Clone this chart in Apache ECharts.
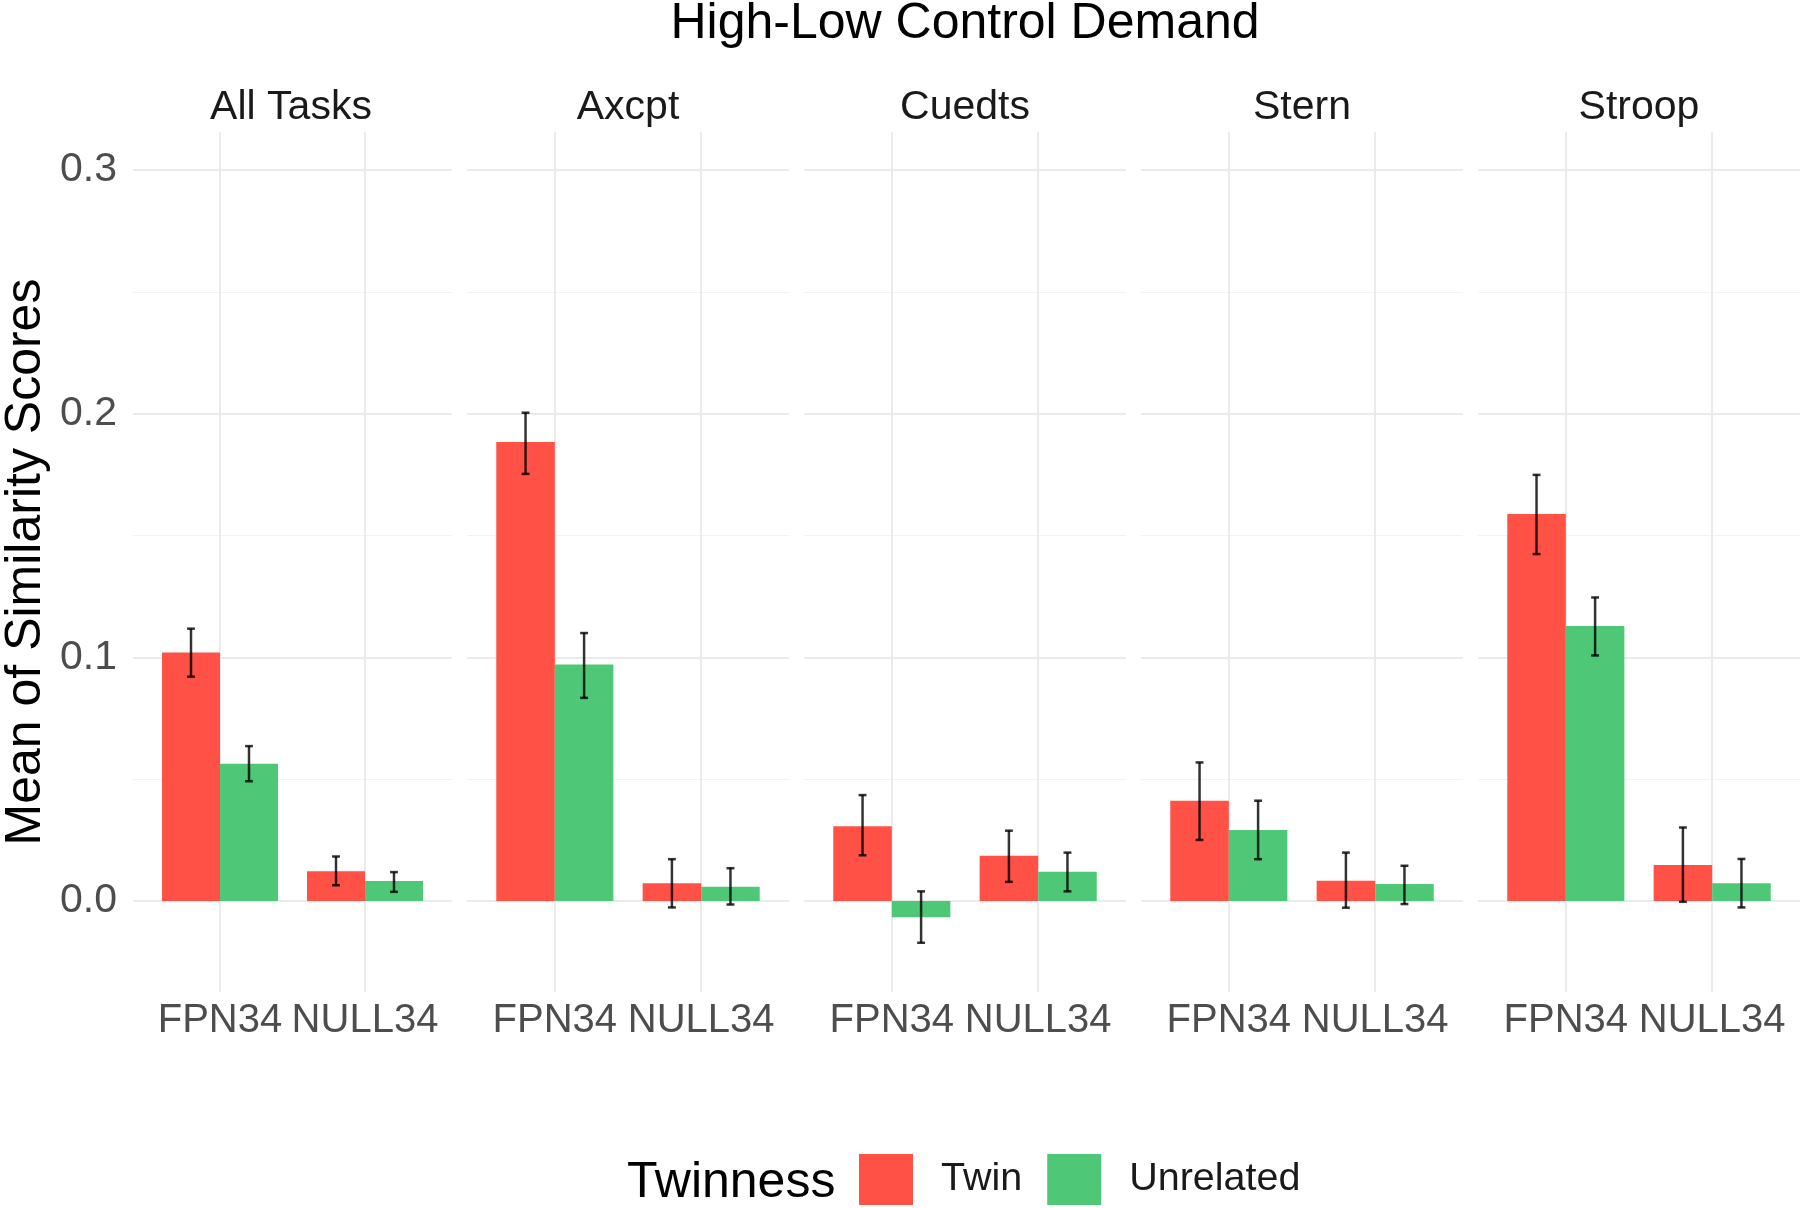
<!DOCTYPE html>
<html>
<head>
<meta charset="utf-8">
<script src="https://cdn.jsdelivr.net/npm/echarts@6/dist/echarts.min.js"></script>
<style>
html,body{margin:0;padding:0;background:#fff;}
#chart{width:1800px;height:1208px;}
</style>
</head>
<body>
<div id="chart"></div>
<script>
// ---- data ----
const chartTitle = 'High-Low Control Demand';
const tasks = ['All Tasks', 'Axcpt', 'Cuedts', 'Stern', 'Stroop'];
const networks = ['FPN34', 'NULL34'];
const groups = ['Twin', 'Unrelated'];
const legendTitle = 'Twinness';
const yAxisTitle = 'Mean of Similarity Scores';
const yTickLabels = ['0.0', '0.1', '0.2', '0.3'];

// values per task: [FPN34, NULL34]
const twinMean = [[0.102, 0.0122], [0.1884, 0.0073], [0.0307, 0.0186], [0.0412, 0.0084], [0.1588, 0.0148]];
const twinLow  = [[0.0921, 0.0065], [0.1753, -0.0026], [0.0188, 0.0079], [0.0251, -0.0027], [0.1424, -0.0003]];
const twinHigh = [[0.1118, 0.0183], [0.2004, 0.0172], [0.0435, 0.0289], [0.0569, 0.0199], [0.1749, 0.0302]];
const unrelMean = [[0.0564, 0.0082], [0.0971, 0.0059], [-0.0066, 0.012], [0.0292, 0.007], [0.1129, 0.0073]];
const unrelLow  = [[0.0492, 0.0038], [0.0834, -0.0014], [-0.0171, 0.004], [0.0172, -0.0012], [0.1008, -0.0026]];
const unrelHigh = [[0.0636, 0.0119], [0.110, 0.0135], [0.004, 0.0199], [0.0412, 0.0145], [0.1246, 0.0173]];

const yMin = -0.0373, yMax = 0.3156;

// ---- styling / layout ----
const FONT = 'Liberation Sans, Arial, sans-serif';
const colors = ['#FF5146', '#4EC877'];
const gridColor = '#EBEBEB';
const panelLeft0 = 130, panelStep = 337, panelWidth = 322, panelTop = 132, panelHeight = 860;
const dodge = [-0.2, 0.2];
const capHalf = 0.027;

const grids = [], xAxes = [], yAxes = [], series = [], titles = [];

titles.push({
  text: chartTitle, left: 960, top: -6, textAlign: 'center',
  textStyle: {fontFamily: FONT, fontSize: 50, fontWeight: 'normal', color: '#000'}
});
titles.push({
  text: legendTitle, left: 622, top: 1153,
  textStyle: {fontFamily: FONT, fontSize: 50, fontWeight: 'normal', color: '#000'}
});

function errRender(offset) {
  return function (params, api) {
    const x = api.value(0) + offset;
    const lo = api.value(1), hi = api.value(2);
    const pT = api.coord([x, hi]), pB = api.coord([x, lo]);
    const tl = api.coord([x - capHalf, hi]), tr = api.coord([x + capHalf, hi]);
    const bl = api.coord([x - capHalf, lo]), br = api.coord([x + capHalf, lo]);
    const st = {stroke: '#000', lineWidth: 2.5, opacity: 0.8};
    return {
      type: 'group',
      children: [
        {type: 'line', shape: {x1: pT[0], y1: pT[1], x2: pB[0], y2: pB[1]}, style: st},
        {type: 'line', shape: {x1: tl[0], y1: tl[1], x2: tr[0], y2: tr[1]}, style: st},
        {type: 'line', shape: {x1: bl[0], y1: bl[1], x2: br[0], y2: br[1]}, style: st}
      ]
    };
  };
}

tasks.forEach(function (task, i) {
  const left = panelLeft0 + panelStep * i;
  grids.push({left: left, top: panelTop, width: panelWidth, height: panelHeight, containLabel: false});
  titles.push({
    text: task, left: left + panelWidth / 2 - 5, top: 82, textAlign: 'center',
    textStyle: {fontFamily: FONT, fontSize: 41, fontWeight: 'normal', color: '#1A1A1A'}
  });
  xAxes.push({
    type: 'value', gridIndex: i, min: 0.4, max: 2.6, splitNumber: 2,
    axisLine: {show: false}, axisTick: {show: false},
    axisLabel: {
      show: true, margin: 9, fontFamily: FONT, fontSize: 40, color: '#4D4D4D',
      showMinLabel: false, showMaxLabel: false,
      formatter: function (v) {
        const k = Math.round(v) - 1;
        return (Math.abs(v - Math.round(v)) < 1e-6 && networks[k]) ? networks[k] : '';
      }
    },
    splitLine: {show: true, showMinLine: false, showMaxLine: false, lineStyle: {color: gridColor, width: 2}}
  });
  yAxes.push({
    type: 'value', gridIndex: i, min: yMin, max: yMax, splitNumber: 4,
    axisLine: {show: false}, axisTick: {show: false},
    name: i === 0 ? yAxisTitle : '',
    nameLocation: 'middle', nameRotate: 90, nameGap: 82,
    nameTextStyle: {fontFamily: FONT, fontSize: 50, color: '#000'},
    axisLabel: {
      show: i === 0, margin: 16, fontFamily: FONT, fontSize: 41, color: '#4D4D4D',
      showMinLabel: false, showMaxLabel: false,
      formatter: function (v) {
        const k = Math.round(v * 10);
        return Math.abs(v * 10 - k) < 1e-6 && yTickLabels[k] ? yTickLabels[k] : '';
      }
    },
    splitLine: {show: true, showMinLine: false, showMaxLine: false, lineStyle: {color: gridColor, width: 2}},
    minorTick: {show: false, splitNumber: 2},
    minorSplitLine: {show: true, lineStyle: {color: '#F2F2F2', width: 1.2}}
  });

  const means = [twinMean[i], unrelMean[i]];
  const lows = [twinLow[i], unrelLow[i]];
  const highs = [twinHigh[i], unrelHigh[i]];
  groups.forEach(function (g, gi) {
    series.push({
      name: g, type: 'bar', xAxisIndex: i, yAxisIndex: i,
      barCategoryGap: '20%', barGap: '0%',
      itemStyle: {color: colors[gi]},
      z: 2,
      data: networks.map(function (n, ni) { return [ni + 1, means[gi][ni]]; })
    });
  });
  groups.forEach(function (g, gi) {
    series.push({
      name: g + ' error', type: 'custom', xAxisIndex: i, yAxisIndex: i, z: 4,
      renderItem: errRender(dodge[gi]),
      encode: {x: 0, y: [1, 2]},
      data: networks.map(function (n, ni) { return [ni + 1, lows[gi][ni], highs[gi][ni]]; })
    });
  });
});

const chart = echarts.init(document.getElementById('chart'), null, {renderer: 'canvas'});
chart.setOption({
  backgroundColor: '#fff',
  animation: false,
  textStyle: {fontFamily: FONT},
  title: titles,
  legend: {
    data: groups, left: 859, top: 1154, padding: 0,
    itemWidth: 54, itemHeight: 51, itemGap: 25, icon: 'rect',
    textStyle: {fontFamily: FONT, fontSize: 39.5, color: '#1A1A1A', padding: [8, 0, 0, 23]}
  },
  grid: grids,
  xAxis: xAxes,
  yAxis: yAxes,
  series: series
});
</script>
</body>
</html>
